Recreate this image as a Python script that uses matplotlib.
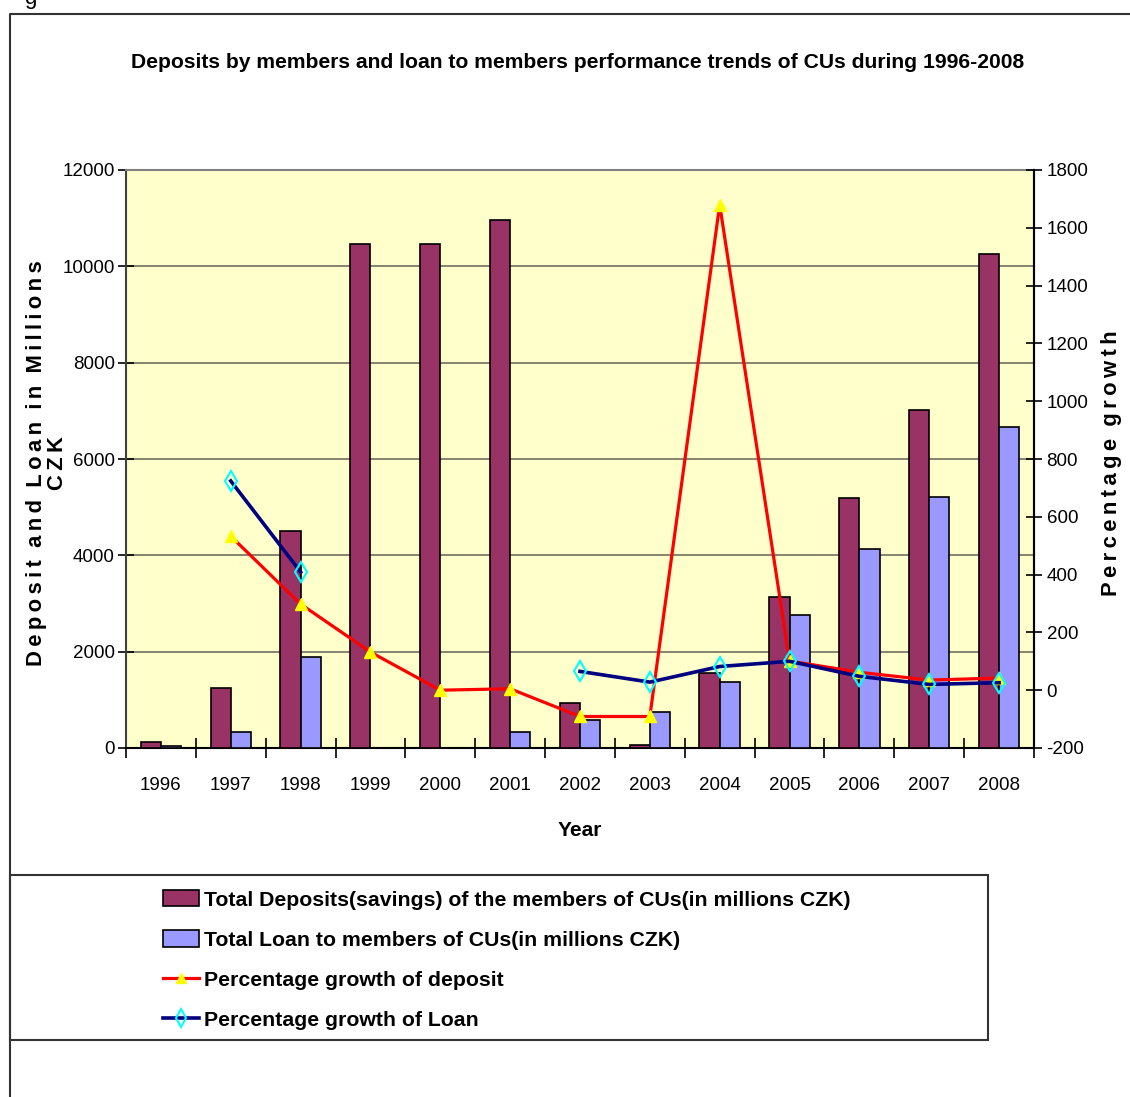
import numpy as np
import matplotlib.pyplot as plt
from matplotlib import font_manager
from matplotlib.lines import Line2D
from matplotlib.patches import Patch, Rectangle

# prefer a narrow face when one is installed, else plain Liberation Sans a bit smaller
names = {f.name for f in font_manager.fontManager.ttflist}
narrow = [n for n in ['Liberation Sans Narrow', 'Arial Narrow'] if n in names]
plt.rcParams['font.family'] = narrow + ['Liberation Sans', 'DejaVu Sans']
plt.rcParams['axes.unicode_minus'] = False
k = 1.12 if narrow else 1.0

years = ['1996', '1997', '1998', '1999', '2000', '2001', '2002',
         '2003', '2004', '2005', '2006', '2007', '2008']
deposits = [130, 1250, 4500, 10460, 10460, 10960, 930, 60, 1560, 3140, 5200, 7020, 10260]
loans = [40, 340, 1890, 0, 0, 340, 580, 740, 1370, 2760, 4130, 5210, 6660]
dep_growth = [np.nan, 533, 298, 132, 0, 5, -91, -91, 1680, 101, 62, 35, 42]
loan_growth = [np.nan, 724, 409, np.nan, np.nan, np.nan, 65, 28, 82, 100, 48, 20, 26]

W, H = 1130, 1097
fig = plt.figure(figsize=(W / 100, H / 100), dpi=100)

def px(x0, y0, w, h):
    return [x0 / W, 1 - (y0 + h) / H, w / W, h / H]

ax = fig.add_axes(px(126, 170, 908, 578))
ax.set_facecolor('#FFFFCC')
x = np.arange(len(years))
bw = 0.29
ax.bar(x - bw / 2, deposits, bw, color='#993366', edgecolor='black', linewidth=1.2, zorder=3)
ax.bar(x + bw / 2, loans, bw, color='#9999FF', edgecolor='black', linewidth=1.2, zorder=3)
ax.set_xlim(-0.5, len(years) - 0.5)
ax.set_ylim(0, 12000)
ax.set_yticks(np.arange(0, 12001, 2000))
ax.grid(axis='y', color='#707060', linewidth=1.2, zorder=1)
ax.set_axisbelow(True)
ax.set_xticks(x)
ax.set_xticklabels(years)
ax.set_xticks(np.arange(-0.5, len(years)), minor=True)
ax.tick_params(axis='x', which='major', length=0, pad=21, labelsize=13.5 * k)
ax.tick_params(axis='x', which='minor', direction='inout', length=14, width=1.2)
ax.tick_params(axis='y', direction='inout', length=12, width=1.2, labelsize=13.5 * k, pad=2)
ax.spines['top'].set_color('#808080')
ax.spines['left'].set_color('#404040')
for s in ax.spines.values():
    s.set_linewidth(1.5)
ax.set_xlabel('Year', fontsize=15 * k, fontweight='bold', labelpad=19)

ax2 = ax.twinx()
ax2.plot(x, dep_growth, color='#FF0000', linewidth=2.3, marker='^', markersize=8,
         markerfacecolor='#FFFF00', markeredgecolor='#FFFF00', zorder=4)
ax2.plot(x, loan_growth, color='#000080', linewidth=2.6, marker='d', markersize=10,
         markerfacecolor='none', markeredgecolor='#00FFFF', markeredgewidth=1.5, zorder=5)
ax2.set_ylim(-200, 1800)
ax2.set_yticks(np.arange(-200, 1801, 200))
ax2.tick_params(axis='y', direction='inout', length=12, width=1.2, labelsize=13.5 * k, pad=3)
for s in ax2.spines.values():
    s.set_visible(False)
ax2.spines['right'].set_visible(True)
ax2.spines['right'].set_linewidth(1.5)

fig.text(578 / W, 1 - 63 / H,
         'Deposits by members and loan to members performance trends of CUs during 1996-2008',
         ha='center', va='center', fontsize=15.2 * k, fontweight='bold')

# letter-spaced axis titles
def spaced(s):
    return '  '.join('\u2009'.join(w) for w in s.split(' '))

wide = ['Liberation Sans', 'DejaVu Sans']
fig.text(47 / W, 1 - 463 / H,
         spaced('Deposit and Loan in Millions') + '\n' + spaced('CZK'),
         rotation=90, ha='center', va='center', fontsize=15.8, fontweight='bold',
         family=wide, linespacing=0.95)
fig.text(1112 / W, 1 - 463 / H, spaced('Percentage growth'), rotation=90,
         ha='center', va='center', fontsize=15.8, fontweight='bold', family=wide)

# outer frame and legend box
fig.add_artist(Line2D([10 / W, 10 / W, 1], [0, 1 - 14 / H, 1 - 14 / H],
                      color='#333333', linewidth=1.5))
fig.add_artist(Rectangle((10 / W, 1 - 1040 / H), 978 / W, 165 / H, fill=False,
                         edgecolor='#333333', linewidth=1.5))
fig.text(24 / W, 1 - 4 / H, 'g', fontsize=16, va='baseline')

handles = [
    Patch(facecolor='#993366', edgecolor='black', linewidth=1.2),
    Patch(facecolor='#9999FF', edgecolor='black', linewidth=1.2),
    Line2D([], [], color='#FF0000', linewidth=2.3, marker='^', markersize=7,
           markerfacecolor='#FFFF00', markeredgecolor='#FFFF00'),
    Line2D([], [], color='#000080', linewidth=2.6, marker='d', markersize=9,
           markerfacecolor='none', markeredgecolor='#00FFFF', markeredgewidth=1.5),
]
labels = ['Total Deposits(savings) of the members of CUs(in millions CZK)',
          'Total Loan to members of CUs(in millions CZK)',
          'Percentage growth of deposit',
          'Percentage growth of Loan']
fs = 15.3 * k
fig.legend(handles, labels, loc='upper left', bbox_to_anchor=(144 / W, 1 - 871 / H),
           frameon=False, prop={'size': fs, 'weight': 'bold'}, handlelength=36 / (fs * 1.389),
           handleheight=17 / (fs * 1.389), handletextpad=0.24, labelspacing=0.97,
           borderpad=0.4)

fig.savefig('out.png', dpi=100)
